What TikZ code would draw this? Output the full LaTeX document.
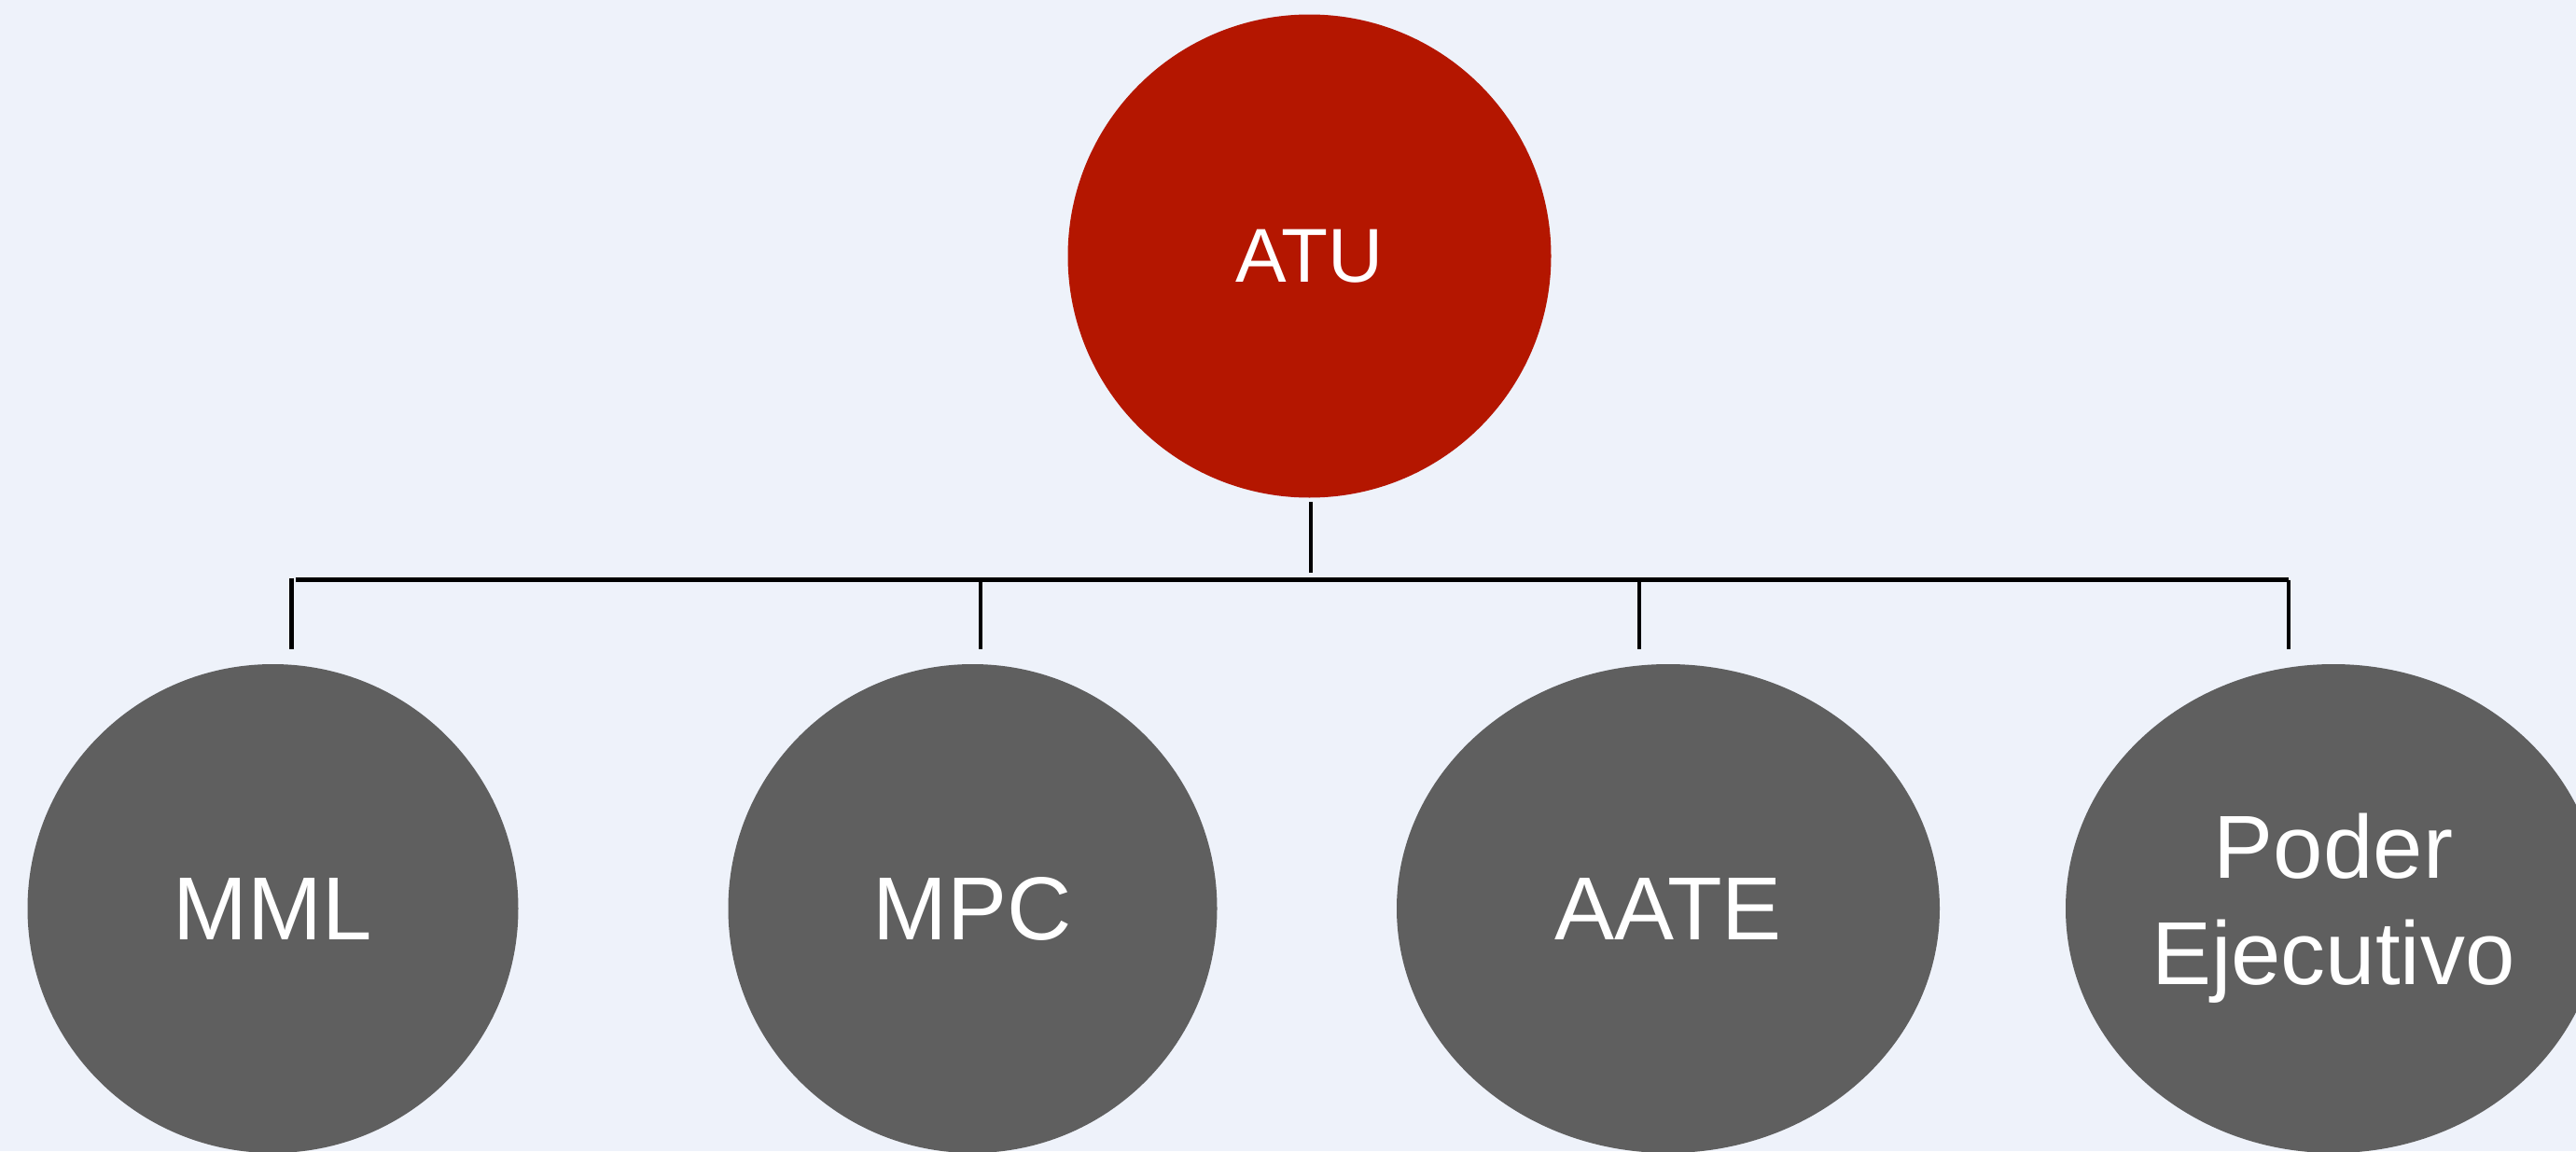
\documentclass[tikz,border=0pt]{standalone}
\usepackage{fontspec}
\setmainfont{Liberation Sans}
\usepackage{xcolor}
\usepackage{tikz}
\usetikzlibrary{shapes.geometric}

\definecolor{bgcolor}{HTML}{EEF2FA}
\definecolor{atured}{HTML}{B41600}
\definecolor{unitgray}{HTML}{5F5F5F}

\begin{document}
\begin{tikzpicture}

\tikzstyle{head} = [draw=none, fill=atured, circle, inner sep=0pt, minimum size=5.18cm, text=white, font=\fontsize{23.3pt}{28pt}\selectfont]
\tikzstyle{unit} = [draw=none, fill=unitgray, ellipse, inner sep=0pt, minimum height=5.24cm, text=white, align=center, font=\fontsize{27.3pt}{32.4pt}\selectfont]
\tikzstyle{link} = [draw, black, line width=1.4pt]

\useasboundingbox (0,0) rectangle (27.61,12.34);
\clip (0,0) rectangle (27.61,12.34);
\fill [bgcolor] (0,0) rectangle (27.61,12.34);

\node [head] (atu) at (14.035,9.595) {ATU};
\node [unit, minimum width=5.26cm] (mml) at (2.925,2.60) {MML};
\node [unit, minimum width=5.24cm] (mpc) at (10.425,2.60) {MPC};
\node [unit, minimum width=5.82cm] (aate) at (17.88,2.60) {AATE};
\node [unit, minimum width=5.74cm] (poder) at (25.01,2.60) {Poder\\Ejecutivo};

% bus line below ATU
\coordinate (bus) at (14.05,6.20);
\coordinate (bus-left) at (3.167,6.123);
\coordinate (bus-right) at (24.53,6.123);
\coordinate (drop-mml) at (3.127,5.38);
\coordinate (drop-mpc) at (10.51,5.38);
\coordinate (drop-aate) at (17.57,5.38);
\coordinate (drop-poder) at (24.53,5.38);

\draw [link] ([yshift=-0.04cm]atu.south -| bus) -- (bus);
\draw [link] (bus-left) -- (bus-right);
\draw [link] (drop-mml |- bus-left) ++(0,0.02) -- (drop-mml);
\draw [link] (drop-mpc |- bus-left) -- (drop-mpc);
\draw [link] (drop-aate |- bus-left) -- (drop-aate);
\draw [link] (bus-right) -- (drop-poder);
\end{tikzpicture}
\end{document}
